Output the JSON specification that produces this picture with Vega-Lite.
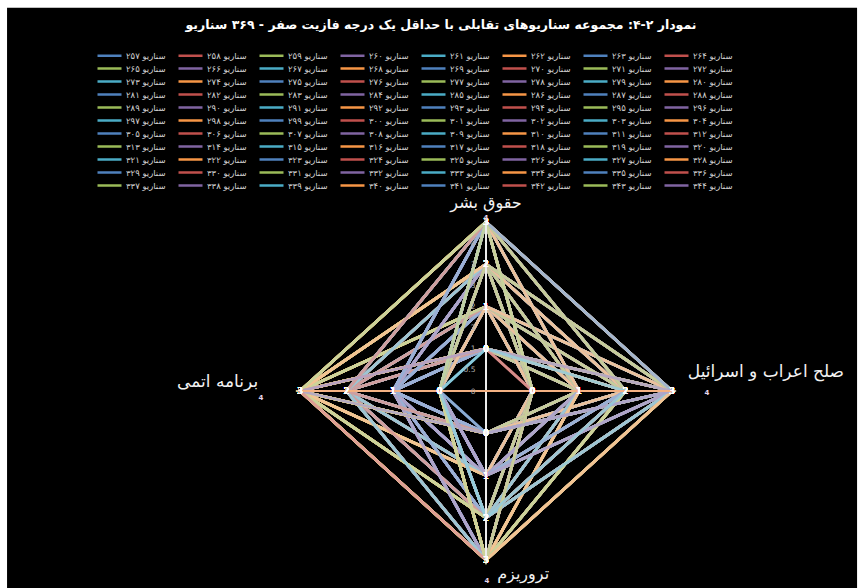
{
"$schema":"https://vega.github.io/schema/vega-lite/v6.json",
"width":372,"height":338,
"autosize":{"type":"none"},
"padding":{"left":300,"top":222,"right":192,"bottom":28},
"background":"white",
"title":{"text":"نمودار ۲-۴: مجموعه سناریوهای تقابلی با حداقل یک درجه فازیت صفر - ۳۶۹ سناریو","color":"white","font":"DejaVu Sans","fontSize":12.5,"fontWeight":"bold","anchor":"middle","frame":"group","baseline":"alphabetic","offset":-34,"dx":-45},
"data":{"values":[
{"s":"سناریو ۲۵۷","h":0,"p":1,"t":1,"n":1},
{"s":"سناریو ۲۵۸","h":0,"p":1,"t":1,"n":2},
{"s":"سناریو ۲۵۹","h":0,"p":1,"t":1,"n":3},
{"s":"سناریو ۲۶۰","h":0,"p":1,"t":2,"n":1},
{"s":"سناریو ۲۶۱","h":0,"p":1,"t":2,"n":2},
{"s":"سناریو ۲۶۲","h":0,"p":1,"t":2,"n":3},
{"s":"سناریو ۲۶۳","h":0,"p":1,"t":3,"n":1},
{"s":"سناریو ۲۶۴","h":0,"p":1,"t":3,"n":2},
{"s":"سناریو ۲۶۵","h":0,"p":1,"t":3,"n":3},
{"s":"سناریو ۲۶۶","h":0,"p":2,"t":1,"n":1},
{"s":"سناریو ۲۶۷","h":0,"p":2,"t":1,"n":2},
{"s":"سناریو ۲۶۸","h":0,"p":2,"t":1,"n":3},
{"s":"سناریو ۲۶۹","h":0,"p":2,"t":2,"n":1},
{"s":"سناریو ۲۷۰","h":0,"p":2,"t":2,"n":2},
{"s":"سناریو ۲۷۱","h":0,"p":2,"t":2,"n":3},
{"s":"سناریو ۲۷۲","h":0,"p":2,"t":3,"n":1},
{"s":"سناریو ۲۷۳","h":0,"p":2,"t":3,"n":2},
{"s":"سناریو ۲۷۴","h":0,"p":2,"t":3,"n":3},
{"s":"سناریو ۲۷۵","h":0,"p":3,"t":1,"n":1},
{"s":"سناریو ۲۷۶","h":0,"p":3,"t":1,"n":2},
{"s":"سناریو ۲۷۷","h":0,"p":3,"t":1,"n":3},
{"s":"سناریو ۲۷۸","h":0,"p":3,"t":2,"n":1},
{"s":"سناریو ۲۷۹","h":0,"p":3,"t":2,"n":2},
{"s":"سناریو ۲۸۰","h":0,"p":3,"t":2,"n":3},
{"s":"سناریو ۲۸۱","h":0,"p":3,"t":3,"n":1},
{"s":"سناریو ۲۸۲","h":0,"p":3,"t":3,"n":2},
{"s":"سناریو ۲۸۳","h":0,"p":3,"t":3,"n":3},
{"s":"سناریو ۲۸۴","h":1,"p":0,"t":1,"n":1},
{"s":"سناریو ۲۸۵","h":1,"p":0,"t":1,"n":2},
{"s":"سناریو ۲۸۶","h":1,"p":0,"t":1,"n":3},
{"s":"سناریو ۲۸۷","h":1,"p":0,"t":2,"n":1},
{"s":"سناریو ۲۸۸","h":1,"p":0,"t":2,"n":2},
{"s":"سناریو ۲۸۹","h":1,"p":0,"t":2,"n":3},
{"s":"سناریو ۲۹۰","h":1,"p":0,"t":3,"n":1},
{"s":"سناریو ۲۹۱","h":1,"p":0,"t":3,"n":2},
{"s":"سناریو ۲۹۲","h":1,"p":0,"t":3,"n":3},
{"s":"سناریو ۲۹۳","h":2,"p":0,"t":1,"n":1},
{"s":"سناریو ۲۹۴","h":2,"p":0,"t":1,"n":2},
{"s":"سناریو ۲۹۵","h":2,"p":0,"t":1,"n":3},
{"s":"سناریو ۲۹۶","h":2,"p":0,"t":2,"n":1},
{"s":"سناریو ۲۹۷","h":2,"p":0,"t":2,"n":2},
{"s":"سناریو ۲۹۸","h":2,"p":0,"t":2,"n":3},
{"s":"سناریو ۲۹۹","h":2,"p":0,"t":3,"n":1},
{"s":"سناریو ۳۰۰","h":2,"p":0,"t":3,"n":2},
{"s":"سناریو ۳۰۱","h":2,"p":0,"t":3,"n":3},
{"s":"سناریو ۳۰۲","h":3,"p":0,"t":1,"n":1},
{"s":"سناریو ۳۰۳","h":3,"p":0,"t":1,"n":2},
{"s":"سناریو ۳۰۴","h":3,"p":0,"t":1,"n":3},
{"s":"سناریو ۳۰۵","h":3,"p":0,"t":2,"n":1},
{"s":"سناریو ۳۰۶","h":3,"p":0,"t":2,"n":2},
{"s":"سناریو ۳۰۷","h":3,"p":0,"t":2,"n":3},
{"s":"سناریو ۳۰۸","h":3,"p":0,"t":3,"n":1},
{"s":"سناریو ۳۰۹","h":3,"p":0,"t":3,"n":2},
{"s":"سناریو ۳۱۰","h":3,"p":0,"t":3,"n":3},
{"s":"سناریو ۳۱۱","h":1,"p":1,"t":0,"n":1},
{"s":"سناریو ۳۱۲","h":1,"p":1,"t":0,"n":2},
{"s":"سناریو ۳۱۳","h":1,"p":1,"t":0,"n":3},
{"s":"سناریو ۳۱۴","h":1,"p":2,"t":0,"n":1},
{"s":"سناریو ۳۱۵","h":1,"p":2,"t":0,"n":2},
{"s":"سناریو ۳۱۶","h":1,"p":2,"t":0,"n":3},
{"s":"سناریو ۳۱۷","h":1,"p":3,"t":0,"n":1},
{"s":"سناریو ۳۱۸","h":1,"p":3,"t":0,"n":2},
{"s":"سناریو ۳۱۹","h":1,"p":3,"t":0,"n":3},
{"s":"سناریو ۳۲۰","h":2,"p":1,"t":0,"n":1},
{"s":"سناریو ۳۲۱","h":2,"p":1,"t":0,"n":2},
{"s":"سناریو ۳۲۲","h":2,"p":1,"t":0,"n":3},
{"s":"سناریو ۳۲۳","h":2,"p":2,"t":0,"n":1},
{"s":"سناریو ۳۲۴","h":2,"p":2,"t":0,"n":2},
{"s":"سناریو ۳۲۵","h":2,"p":2,"t":0,"n":3},
{"s":"سناریو ۳۲۶","h":2,"p":3,"t":0,"n":1},
{"s":"سناریو ۳۲۷","h":2,"p":3,"t":0,"n":2},
{"s":"سناریو ۳۲۸","h":2,"p":3,"t":0,"n":3},
{"s":"سناریو ۳۲۹","h":3,"p":1,"t":0,"n":1},
{"s":"سناریو ۳۳۰","h":3,"p":1,"t":0,"n":2},
{"s":"سناریو ۳۳۱","h":3,"p":1,"t":0,"n":3},
{"s":"سناریو ۳۳۲","h":3,"p":2,"t":0,"n":1},
{"s":"سناریو ۳۳۳","h":3,"p":2,"t":0,"n":2},
{"s":"سناریو ۳۳۴","h":3,"p":2,"t":0,"n":3},
{"s":"سناریو ۳۳۵","h":3,"p":3,"t":0,"n":1},
{"s":"سناریو ۳۳۶","h":3,"p":3,"t":0,"n":2},
{"s":"سناریو ۳۳۷","h":3,"p":3,"t":0,"n":3},
{"s":"سناریو ۳۳۸","h":1,"p":1,"t":1,"n":0},
{"s":"سناریو ۳۳۹","h":1,"p":1,"t":2,"n":0},
{"s":"سناریو ۳۴۰","h":1,"p":1,"t":3,"n":0},
{"s":"سناریو ۳۴۱","h":1,"p":2,"t":1,"n":0},
{"s":"سناریو ۳۴۲","h":1,"p":2,"t":2,"n":0},
{"s":"سناریو ۳۴۳","h":1,"p":2,"t":3,"n":0},
{"s":"سناریو ۳۴۴","h":1,"p":3,"t":1,"n":0},
{"s":"سناریو ۳۴۵","h":1,"p":3,"t":2,"n":0},
{"s":"سناریو ۳۴۶","h":1,"p":3,"t":3,"n":0},
{"s":"سناریو ۳۴۷","h":2,"p":1,"t":1,"n":0},
{"s":"سناریو ۳۴۸","h":2,"p":1,"t":2,"n":0},
{"s":"سناریو ۳۴۹","h":2,"p":1,"t":3,"n":0},
{"s":"سناریو ۳۵۰","h":2,"p":2,"t":1,"n":0},
{"s":"سناریو ۳۵۱","h":2,"p":2,"t":2,"n":0},
{"s":"سناریو ۳۵۲","h":2,"p":2,"t":3,"n":0},
{"s":"سناریو ۳۵۳","h":2,"p":3,"t":1,"n":0},
{"s":"سناریو ۳۵۴","h":2,"p":3,"t":2,"n":0},
{"s":"سناریو ۳۵۵","h":2,"p":3,"t":3,"n":0},
{"s":"سناریو ۳۵۶","h":3,"p":1,"t":1,"n":0},
{"s":"سناریو ۳۵۷","h":3,"p":1,"t":2,"n":0},
{"s":"سناریو ۳۵۸","h":3,"p":1,"t":3,"n":0},
{"s":"سناریو ۳۵۹","h":3,"p":2,"t":1,"n":0},
{"s":"سناریو ۳۶۰","h":3,"p":2,"t":2,"n":0},
{"s":"سناریو ۳۶۱","h":3,"p":2,"t":3,"n":0},
{"s":"سناریو ۳۶۲","h":3,"p":3,"t":1,"n":0},
{"s":"سناریو ۳۶۳","h":3,"p":3,"t":2,"n":0},
{"s":"سناریو ۳۶۴","h":3,"p":3,"t":3,"n":0},
{"s":"سناریو ۳۶۵","h":3,"p":3,"t":0,"n":0},
{"s":"سناریو ۳۶۶","h":0,"p":0,"t":3,"n":3},
{"s":"سناریو ۳۶۷","h":3,"p":0,"t":3,"n":0},
{"s":"سناریو ۳۶۸","h":0,"p":3,"t":0,"n":3},
{"s":"سناریو ۳۶۹","h":0,"p":2,"t":2,"n":0}
]},
"transform":[
{"fold":["h","p","t","n"],"as":["axis","v"]},
{"calculate":"datum.axis==='p' ? datum.v+1 : (datum.axis==='n' ? -(datum.v+1) : 0)","as":"x"},
{"calculate":"datum.axis==='h' ? datum.v+1 : (datum.axis==='t' ? -(datum.v+1) : 0)","as":"y"}
],
"layer":[
{"data":{"values":[{}]},"mark":{"type":"rect","color":"black"},
 "encoding":{"x":{"datum":-10.3,"type":"quantitative","scale":{"domain":[-4,4],"nice":false,"zero":false}},"x2":{"datum":7.98},
 "y":{"datum":9.07,"type":"quantitative","scale":{"domain":[-4,4],"nice":false,"zero":false},"axis":{"orient":"left","offset":-186,"values":[0,0.5,1,1.5,2,2.5,3,3.5],"format":"~g","domain":false,"ticks":false,"grid":false,"labelColor":"#b0b0b0","labelFont":"DejaVu Sans","labelFontSize":7.5,"labelPadding":11,"title":null,"zindex":1}},"y2":{"datum":-4.95}}},
{"mark":{"type":"line","strokeWidth":2.8,"interpolate":"linear-closed"},
 "encoding":{"x":{"field":"x","type":"quantitative"},"y":{"field":"y","type":"quantitative"},"detail":{"field":"s"},"order":{"value":null},
 "color":{"field":"s","type":"nominal","scale":{"range":["#4F81BD","#C0504D","#9BBB59","#8064A2","#4BACC6","#F79646"]},
  "legend":{"orient":"none","legendX":-208,"legendY":-172,"columns":8,"direction":"horizontal","symbolLimit":200,"title":null,"symbolType":"M0,0H6","symbolSize":64,"symbolStrokeWidth":2.5,"labelOffset":23,"labelFont":"DejaVu Sans","labelFontSize":8.5,"labelColor":"#d0d0d0","columnPadding":7,"rowPadding":2,
  "values":["سناریو ۲۵۷","سناریو ۲۵۸","سناریو ۲۵۹","سناریو ۲۶۰","سناریو ۲۶۱","سناریو ۲۶۲","سناریو ۲۶۳","سناریو ۲۶۴","سناریو ۲۶۵","سناریو ۲۶۶","سناریو ۲۶۷","سناریو ۲۶۸","سناریو ۲۶۹","سناریو ۲۷۰","سناریو ۲۷۱","سناریو ۲۷۲","سناریو ۲۷۳","سناریو ۲۷۴","سناریو ۲۷۵","سناریو ۲۷۶","سناریو ۲۷۷","سناریو ۲۷۸","سناریو ۲۷۹","سناریو ۲۸۰","سناریو ۲۸۱","سناریو ۲۸۲","سناریو ۲۸۳","سناریو ۲۸۴","سناریو ۲۸۵","سناریو ۲۸۶","سناریو ۲۸۷","سناریو ۲۸۸","سناریو ۲۸۹","سناریو ۲۹۰","سناریو ۲۹۱","سناریو ۲۹۲","سناریو ۲۹۳","سناریو ۲۹۴","سناریو ۲۹۵","سناریو ۲۹۶","سناریو ۲۹۷","سناریو ۲۹۸","سناریو ۲۹۹","سناریو ۳۰۰","سناریو ۳۰۱","سناریو ۳۰۲","سناریو ۳۰۳","سناریو ۳۰۴","سناریو ۳۰۵","سناریو ۳۰۶","سناریو ۳۰۷","سناریو ۳۰۸","سناریو ۳۰۹","سناریو ۳۱۰","سناریو ۳۱۱","سناریو ۳۱۲","سناریو ۳۱۳","سناریو ۳۱۴","سناریو ۳۱۵","سناریو ۳۱۶","سناریو ۳۱۷","سناریو ۳۱۸","سناریو ۳۱۹","سناریو ۳۲۰","سناریو ۳۲۱","سناریو ۳۲۲","سناریو ۳۲۳","سناریو ۳۲۴","سناریو ۳۲۵","سناریو ۳۲۶","سناریو ۳۲۷","سناریو ۳۲۸","سناریو ۳۲۹","سناریو ۳۳۰","سناریو ۳۳۱","سناریو ۳۳۲","سناریو ۳۳۳","سناریو ۳۳۴","سناریو ۳۳۵","سناریو ۳۳۶","سناریو ۳۳۷","سناریو ۳۳۸","سناریو ۳۳۹","سناریو ۳۴۰","سناریو ۳۴۱","سناریو ۳۴۲","سناریو ۳۴۳","سناریو ۳۴۴"]}}}},
{"mark":{"type":"line","strokeWidth":2.8,"interpolate":"linear-closed","opacity":0.85},
 "encoding":{"x":{"field":"x","type":"quantitative"},"y":{"field":"y","type":"quantitative"},"detail":{"field":"s"},"order":{"value":null},
 "stroke":{"field":"s","type":"nominal","scale":{"range":["#95B3D7","#D99694","#C3D69B","#B3A2C7","#93CDDD","#FAC090"]},"legend":null}}},
{"data":{"values":[{}]},"mark":{"type":"rule","color":"#ececec","strokeWidth":2},
 "encoding":{"x":{"datum":0,"type":"quantitative"},"y":{"datum":-4,"type":"quantitative"},"y2":{"datum":4}}},
{"data":{"values":[{}]},"mark":{"type":"rule","color":"#F4B183","strokeWidth":2},
 "encoding":{"y":{"datum":0,"type":"quantitative"},"x":{"datum":-4,"type":"quantitative"},"x2":{"datum":4}}},
{"mark":{"type":"text","color":"white","font":"DejaVu Sans","fontSize":8.5},
 "encoding":{"x":{"field":"x","type":"quantitative"},"y":{"field":"y","type":"quantitative"},"text":{"field":"v","type":"quantitative"}}},
{"data":{"values":[{}]},"mark":{"type":"text","color":"#f2f2f2","font":"DejaVu Sans","fontSize":16,"align":"center","baseline":"middle","text":"حقوق بشر"},
 "encoding":{"x":{"datum":0,"type":"quantitative"},"y":{"datum":4.45,"type":"quantitative"}}},
{"data":{"values":[{}]},"mark":{"type":"text","color":"#f2f2f2","font":"DejaVu Sans","fontSize":17,"align":"left","baseline":"middle","text":"صلح اعراب و اسرائیل"},
 "encoding":{"x":{"datum":4.34,"type":"quantitative"},"y":{"datum":0.45,"type":"quantitative"}}},
{"data":{"values":[{}]},"mark":{"type":"text","color":"#f2f2f2","font":"DejaVu Sans","fontSize":17,"align":"right","baseline":"middle","text":"برنامه اتمی"},
 "encoding":{"x":{"datum":-4.9,"type":"quantitative"},"y":{"datum":0.21,"type":"quantitative"}}},
{"data":{"values":[{}]},"mark":{"type":"text","color":"#f2f2f2","font":"DejaVu Sans","fontSize":16,"align":"left","baseline":"middle","text":"تروریزم"},
 "encoding":{"x":{"datum":0.24,"type":"quantitative"},"y":{"datum":-4.33,"type":"quantitative"}}},
{"data":{"values":[{}]},"mark":{"type":"text","color":"#e6d6ec","font":"DejaVu Sans","fontSize":7,"fontWeight":"bold","align":"center","baseline":"middle","text":"4"},
 "encoding":{"x":{"datum":0,"type":"quantitative"},"y":{"datum":4.09,"type":"quantitative"}}},
{"data":{"values":[{}]},"mark":{"type":"text","color":"#e6d6ec","font":"DejaVu Sans","fontSize":7,"fontWeight":"bold","align":"center","baseline":"middle","text":"4"},
 "encoding":{"x":{"datum":-4.84,"type":"quantitative"},"y":{"datum":-0.17,"type":"quantitative"}}},
{"data":{"values":[{}]},"mark":{"type":"text","color":"#e6d6ec","font":"DejaVu Sans","fontSize":7,"fontWeight":"bold","align":"center","baseline":"middle","text":"4"},
 "encoding":{"x":{"datum":4.75,"type":"quantitative"},"y":{"datum":-0.05,"type":"quantitative"}}},
{"data":{"values":[{}]},"mark":{"type":"text","color":"#e6d6ec","font":"DejaVu Sans","fontSize":7,"fontWeight":"bold","align":"center","baseline":"middle","text":"4"},
 "encoding":{"x":{"datum":0.02,"type":"quantitative"},"y":{"datum":-4.5,"type":"quantitative"}}}
],
"config":{"axisX":{"disable":true},"view":{"stroke":null}}
}
